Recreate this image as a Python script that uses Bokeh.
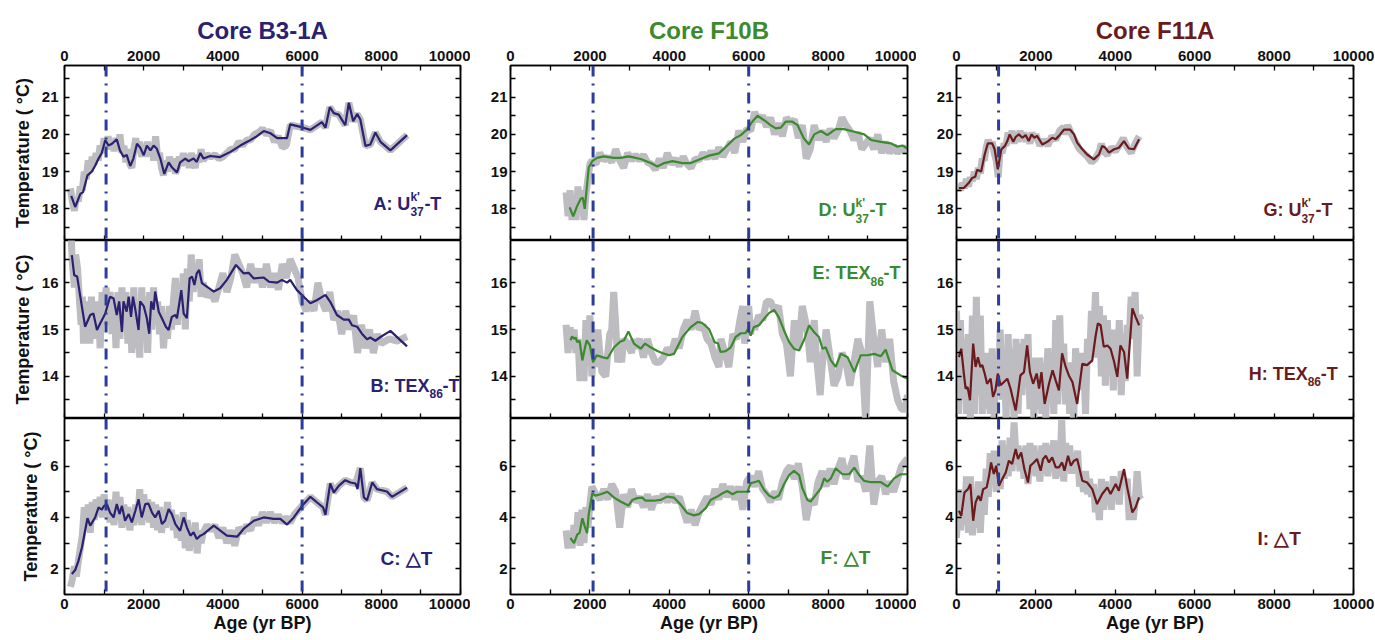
from bokeh.plotting import figure
from bokeh.layouts import gridplot
from bokeh.models import Range1d, LinearAxis, FixedTicker, Label, Span
from bokeh.embed import file_html
from bokeh.resources import INLINE

# ------------------------------------------------------------------ data
age_ticks = [0, 2000, 4000, 6000, 8000, 10000]
age_minor = [1000, 3000, 5000, 7000, 9000]
uk_ticks, uk_minor = [18, 19, 20, 21], [17.5, 18.5, 19.5, 20.5, 21.5]
tex_ticks, tex_minor = [14, 15, 16], [13.5, 14.5, 15.5, 16.5]
dt_ticks, dt_minor = [2, 4, 6], [3, 5, 7]

core_names = ["Core B3-1A", "Core F10B", "Core F11A"]
panel_tags = ["A", "B", "C", "D", "E", "F", "G", "H", "I"]

b3_events = [1050, 6000]
f10_events = [2080, 6000]
f11_events = [1060]

# ---- Core B3-1A
b3_uk_raw = [(150, 18.55), (200, 18.2), (250, 17.95), (300, 18.3), (350, 18.2), (400, 18.6), (450, 18.5),
             (500, 19.0), (550, 18.8), (600, 19.3), (650, 19.0), (700, 19.4), (750, 19.2), (800, 19.5),
             (850, 19.3), (900, 19.7), (950, 19.5), (1000, 19.9), (1050, 19.6), (1100, 19.95), (1150, 19.6),
             (1200, 19.8), (1250, 19.55), (1300, 19.9), (1350, 19.6), (1400, 20.0), (1450, 19.5), (1500, 19.7),
             (1550, 19.25), (1600, 19.6), (1650, 19.2), (1700, 19.1), (1750, 19.6), (1800, 19.9), (1850, 19.5),
             (1900, 19.8), (1950, 19.4), (2000, 19.7), (2050, 19.4), (2100, 19.8), (2150, 19.45), (2200, 19.7),
             (2250, 19.3), (2300, 19.95), (2350, 19.4), (2400, 19.5), (2450, 19.1), (2500, 18.9), (2550, 19.3),
             (2600, 19.0), (2650, 19.4), (2700, 19.1), (2750, 19.35), (2800, 18.95), (2850, 19.1), (2900, 19.4),
             (2950, 19.15), (3000, 19.5), (3050, 19.2), (3100, 19.45), (3150, 19.1), (3200, 19.5), (3250, 19.25),
             (3300, 19.1), (3350, 19.45), (3400, 19.25), (3450, 19.6), (3500, 19.3), (3600, 19.45), (3700, 19.4),
             (3800, 19.45), (3900, 19.35), (4000, 19.4), (4100, 19.5), (4200, 19.6), (4300, 19.6), (4400, 19.8),
             (4500, 19.7), (4600, 19.85), (4700, 19.85), (4800, 20.0), (4900, 20.05), (5000, 20.15), (5100, 20.0),
             (5200, 20.1), (5300, 19.8), (5400, 19.95), (5500, 19.65), (5600, 19.7), (5700, 20.25), (5960, 20.2),
             (6210, 20.12), (6500, 20.33), (6590, 20.18), (6700, 20.73), (6800, 20.57), (6925, 20.53),
             (7090, 20.25), (7180, 20.85), (7290, 20.35), (7390, 20.55), (7470, 20.4), (7600, 19.69),
             (7725, 19.73), (7850, 20.05), (7980, 19.8), (8230, 19.57), (8650, 19.98)]
b3_uk_smooth = [(170, 18.35), (270, 18.05), (400, 18.4), (470, 18.45), (580, 18.9), (690, 19.0), (770, 19.15),
                (860, 19.35), (940, 19.5), (1030, 19.85), (1110, 19.7), (1200, 19.75), (1320, 19.87),
                (1400, 19.57), (1490, 19.4), (1570, 19.45), (1660, 19.15), (1740, 19.35), (1830, 19.75),
                (1910, 19.65), (2000, 19.44), (2080, 19.7), (2170, 19.57), (2250, 19.7), (2330, 19.62),
                (2420, 19.35), (2520, 18.94), (2630, 19.25), (2710, 19.12), (2840, 18.98), (2920, 19.25),
                (3050, 19.35), (3130, 19.28), (3260, 19.35), (3340, 19.26), (3430, 19.5), (3510, 19.35),
                (3680, 19.42), (3930, 19.39), (4190, 19.53), (4440, 19.7), (4650, 19.82), (4860, 19.95),
                (5030, 20.09), (5200, 20.03), (5370, 19.9), (5620, 19.9), (5700, 20.27), (5960, 20.2),
                (6210, 20.12), (6500, 20.33), (6590, 20.18), (6700, 20.73), (6800, 20.57), (6925, 20.53),
                (7090, 20.25), (7180, 20.85), (7290, 20.35), (7390, 20.55), (7470, 20.4), (7600, 19.69),
                (7725, 19.73), (7850, 20.05), (7980, 19.8), (8230, 19.57), (8650, 19.98)]

b3_tex_raw = [(170, 16.95), (200, 16.4), (250, 15.9), (280, 16.6), (330, 16.3), (380, 15.6), (420, 15.1),
              (450, 15.7), (480, 14.7), (520, 15.4), (560, 14.9), (600, 15.6), (640, 14.7), (680, 15.7),
              (720, 14.8), (760, 15.5), (800, 14.9), (850, 15.6), (900, 14.6), (950, 15.8), (1000, 15.1),
              (1050, 15.9), (1100, 15.2), (1150, 15.8), (1200, 14.9), (1250, 15.7), (1300, 14.6), (1350, 15.8),
              (1400, 14.8), (1450, 15.9), (1500, 15.0), (1550, 15.8), (1600, 14.7), (1650, 15.6), (1700, 14.5),
              (1750, 15.9), (1800, 14.6), (1850, 15.5), (1900, 14.4), (1950, 15.9), (2000, 14.8), (2050, 15.7),
              (2100, 14.5), (2150, 15.8), (2200, 15.0), (2250, 15.9), (2300, 15.1), (2350, 15.6), (2400, 14.9),
              (2450, 15.5), (2500, 14.6), (2550, 15.2), (2600, 14.8), (2650, 15.5), (2700, 15.0), (2750, 15.6),
              (2800, 16.1), (2850, 15.1), (2900, 16.0), (2950, 15.3), (3000, 16.2), (3050, 15.0), (3100, 16.3),
              (3150, 15.6), (3200, 16.6), (3250, 15.8), (3300, 16.3), (3350, 15.9), (3400, 16.5), (3450, 15.7),
              (3500, 16.0), (3600, 15.7), (3700, 15.8), (3800, 15.6), (3900, 15.9), (4000, 16.2), (4100, 15.8),
              (4200, 16.1), (4300, 16.6), (4400, 16.4), (4500, 16.2), (4600, 15.9), (4700, 16.4), (4800, 16.0),
              (4900, 16.3), (5000, 15.9), (5100, 16.4), (5200, 15.9), (5300, 16.2), (5400, 15.85), (5500, 16.4),
              (5600, 16.1), (5700, 16.5), (5800, 16.3), (5900, 16.1), (6000, 15.6), (6100, 15.4), (6200, 15.6),
              (6300, 15.4), (6400, 16.0), (6500, 15.6), (6600, 15.4), (6700, 15.8), (6800, 15.2), (6900, 15.4),
              (7000, 14.9), (7100, 15.4), (7200, 15.0), (7300, 15.3), (7400, 14.5), (7500, 15.1), (7600, 14.6),
              (7700, 15.0), (7800, 14.5), (7900, 14.9), (8000, 14.7), (8200, 14.8), (8400, 14.75), (8650, 14.85)]
b3_tex_smooth = [(185, 16.59), (245, 16.16), (320, 16.13), (400, 15.7), (520, 15.06), (650, 15.31), (730, 15.34),
                 (820, 14.99), (900, 15.13), (1030, 15.34), (1150, 15.7), (1240, 15.66), (1320, 15.31),
                 (1380, 15.6), (1450, 14.95), (1490, 15.6), (1570, 15.38), (1620, 15.7), (1680, 15.27),
                 (1730, 15.7), (1790, 15.42), (1870, 14.99), (1910, 15.6), (2000, 15.5), (2080, 15.24),
                 (2140, 14.91), (2190, 15.6), (2250, 15.42), (2290, 15.81), (2380, 15.38), (2460, 15.24),
                 (2560, 15.06), (2630, 14.99), (2710, 15.27), (2800, 15.31), (2840, 15.24), (2950, 15.84),
                 (3010, 15.34), (3090, 15.24), (3160, 16.09), (3220, 16.13), (3280, 15.95), (3340, 16.2),
                 (3400, 16.27), (3470, 15.99), (3770, 15.81), (3930, 15.88), (4100, 16.06), (4330, 16.38),
                 (4520, 16.2), (4650, 16.21), (4780, 16.09), (5030, 16.11), (5160, 16.02), (5370, 16.0),
                 (5490, 16.06), (5620, 16.0), (5700, 16.06), (5870, 15.84), (6040, 15.7), (6210, 15.56),
                 (6380, 15.63), (6590, 15.74), (6710, 15.59), (6880, 15.31), (7050, 15.21), (7180, 15.21),
                 (7260, 15.09), (7390, 15.06), (7510, 14.91), (7640, 14.79), (7720, 14.83), (7850, 14.76),
                 (7980, 14.84), (8230, 14.97), (8650, 14.64)]

b3_dt_raw = [(150, 1.3), (200, 1.6), (250, 2.1), (300, 1.7), (350, 2.3), (400, 2.8), (450, 3.3), (500, 4.4),
             (550, 3.5), (600, 4.5), (650, 3.4), (700, 4.6), (750, 3.9), (800, 4.7), (850, 4.1), (900, 4.8),
             (950, 4.0), (1000, 4.9), (1050, 4.1), (1100, 4.7), (1150, 3.8), (1200, 4.6), (1250, 3.7), (1300, 5.0),
             (1350, 3.9), (1400, 4.8), (1450, 3.6), (1500, 4.5), (1550, 3.7), (1600, 4.4), (1650, 3.5), (1700, 4.2),
             (1750, 3.7), (1800, 4.5), (1850, 3.8), (1900, 5.1), (1950, 3.7), (2000, 4.9), (2050, 3.9), (2100, 4.7),
             (2150, 3.8), (2200, 4.6), (2250, 3.6), (2300, 4.5), (2350, 3.5), (2400, 4.4), (2450, 3.4), (2500, 4.2),
             (2550, 3.6), (2600, 4.6), (2650, 3.8), (2700, 4.3), (2750, 3.5), (2800, 4.1), (2850, 3.2), (2900, 3.9),
             (2950, 3.1), (3000, 4.2), (3050, 2.8), (3100, 3.9), (3150, 2.7), (3200, 3.5), (3250, 2.9), (3300, 3.8),
             (3350, 2.6), (3400, 3.5), (3450, 3.0), (3500, 3.4), (3600, 3.7), (3700, 3.5), (3800, 3.7), (3900, 3.2),
             (4000, 3.6), (4100, 3.0), (4200, 3.5), (4300, 2.9), (4400, 3.6), (4500, 3.4), (4600, 3.7), (4700, 3.5),
             (4800, 4.0), (4900, 3.7), (5000, 4.2), (5100, 3.8), (5200, 4.2), (5300, 3.8), (5400, 4.1), (5500, 3.8),
             (5600, 4.0), (5700, 3.8), (5800, 4.1), (6000, 4.45), (6210, 4.8), (6380, 4.58), (6530, 4.39),
             (6590, 4.1), (6710, 5.32), (6800, 4.97), (6925, 5.23), (7090, 5.45), (7220, 5.36), (7350, 5.32),
             (7470, 5.92), (7560, 4.78), (7640, 4.67), (7770, 5.36), (7890, 5.1), (8140, 5.01), (8270, 4.8),
             (8650, 5.16)]
b3_dt_smooth = [(185, 1.8), (270, 1.95), (350, 2.3), (440, 2.83), (520, 3.48), (580, 3.97), (650, 3.68),
                (775, 4.0), (860, 4.39), (940, 4.3), (1000, 4.45), (1070, 4.52), (1150, 4.19), (1240, 4.0),
                (1320, 4.52), (1390, 4.13), (1450, 4.45), (1530, 3.87), (1620, 4.13), (1700, 3.81), (1790, 4.26),
                (1870, 4.71), (1950, 4.0), (2040, 4.52), (2120, 4.54), (2210, 4.19), (2290, 4.0), (2380, 4.26),
                (2460, 3.74), (2540, 3.87), (2630, 4.32), (2710, 4.13), (2800, 3.74), (2920, 3.48), (3010, 4.0),
                (3090, 3.61), (3180, 3.29), (3260, 3.42), (3340, 3.16), (3430, 3.29), (3510, 3.35), (3770, 3.68),
                (4100, 3.29), (4360, 3.25), (4520, 3.55), (4780, 3.87), (5030, 4.0), (5280, 3.94), (5450, 3.94),
                (5620, 3.72), (5790, 4.0), (6000, 4.45), (6210, 4.8), (6380, 4.58), (6530, 4.39), (6590, 4.1),
                (6710, 5.32), (6800, 4.97), (6925, 5.23), (7090, 5.45), (7220, 5.36), (7350, 5.32), (7400, 5.1),
                (7470, 5.92), (7560, 4.78), (7640, 4.67), (7770, 5.36), (7890, 5.1), (8140, 5.01), (8270, 4.8),
                (8650, 5.16)]

# ---- Core F10B
f10_uk_raw = [(1400, 18.45), (1450, 17.8), (1500, 18.5), (1550, 17.7), (1600, 18.3), (1650, 17.7), (1700, 18.6),
              (1750, 17.9), (1800, 18.5), (1850, 17.7), (1900, 18.4), (1950, 18.8), (2000, 19.2), (2050, 19.3),
              (2150, 19.2), (2250, 19.5), (2350, 19.3), (2450, 19.4), (2550, 19.25), (2650, 19.6), (2750, 19.3),
              (2850, 19.1), (2950, 19.5), (3050, 19.3), (3150, 19.45), (3250, 19.3), (3350, 19.45), (3450, 19.25),
              (3550, 19.2), (3650, 19.05), (3750, 19.35), (3850, 19.1), (3950, 19.5), (4050, 19.2), (4150, 19.35),
              (4250, 19.15), (4350, 19.4), (4450, 19.2), (4550, 19.1), (4650, 19.35), (4750, 19.3), (4850, 19.5),
              (4950, 19.35), (5050, 19.55), (5150, 19.35), (5250, 19.65), (5350, 19.4), (5450, 19.6),
              (5550, 19.8), (5650, 19.5), (5750, 20.1), (5850, 19.8), (5950, 20.15), (6050, 20.1), (6150, 20.6),
              (6250, 20.35), (6350, 20.5), (6450, 20.2), (6550, 20.45), (6650, 20.0), (6750, 20.3), (6850, 19.95),
              (6950, 20.45), (7050, 20.3), (7150, 20.4), (7250, 19.9), (7350, 20.25), (7450, 19.35), (7550, 19.6),
              (7650, 20.25), (7750, 19.85), (7850, 20.1), (7950, 19.8), (8050, 20.15), (8150, 19.9), (8250, 20.1),
              (8350, 20.45), (8450, 20.25), (8550, 20.1), (8650, 19.85), (8750, 20.05), (8850, 19.6), (8950, 19.75),
              (9050, 19.9), (9150, 19.6), (9250, 20.0), (9350, 19.5), (9450, 19.8), (9550, 19.5), (9650, 19.7),
              (9750, 19.5), (9850, 19.65), (9950, 19.55), (10000, 19.7)]
f10_uk_smooth = [(1490, 18.04), (1580, 17.8), (1680, 18.08), (1770, 18.27), (1820, 18.3), (1870, 18.0),
                 (1970, 19.11), (2060, 19.28), (2180, 19.37), (2350, 19.41), (2600, 19.37), (2770, 19.37),
                 (2980, 19.41), (3280, 19.34), (3530, 19.23), (3700, 19.14), (3870, 19.23), (4080, 19.28),
                 (4330, 19.23), (4540, 19.23), (4790, 19.34), (5000, 19.43), (5250, 19.49), (5460, 19.7),
                 (5630, 19.88), (5800, 19.98), (5950, 20.12), (6090, 20.34), (6220, 20.5), (6390, 20.38),
                 (6550, 20.25), (6680, 20.16), (6810, 20.18), (6930, 20.34), (7100, 20.34), (7230, 20.25),
                 (7390, 19.89), (7520, 19.73), (7650, 20.0), (7820, 20.09), (7980, 19.98), (8190, 20.14),
                 (8400, 20.14), (8660, 20.07), (8910, 20.0), (9080, 19.85), (9330, 19.8), (9580, 19.76),
                 (9750, 19.67), (9870, 19.7), (10000, 19.62)]

f10_tex_raw = [(1400, 15.1), (1450, 14.5), (1500, 15.05), (1550, 14.6), (1600, 15.0), (1650, 14.5), (1700, 14.8),
               (1750, 13.9), (1800, 14.7), (1850, 13.9), (1900, 15.2), (1950, 14.3), (2000, 15.3), (2050, 14.0),
               (2100, 14.7), (2150, 14.2), (2200, 15.0), (2250, 14.5), (2300, 14.1), (2400, 14.0), (2450, 14.5),
               (2500, 14.9), (2550, 15.0), (2600, 15.8), (2650, 15.1), (2700, 14.3), (2750, 14.5), (2800, 14.3),
               (2850, 14.8), (2950, 14.7), (3050, 14.5), (3100, 14.8), (3150, 14.6), (3250, 14.8), (3350, 14.4),
               (3450, 14.8), (3550, 14.5), (3650, 14.3), (3750, 14.3), (3850, 14.4), (3950, 14.6), (4050, 14.5),
               (4150, 14.8), (4250, 14.6), (4350, 15.0), (4450, 15.2), (4550, 15.0), (4650, 15.4), (4750, 15.0),
               (4850, 15.1), (4950, 14.8), (5050, 14.7), (5150, 14.4), (5250, 14.2), (5300, 14.8), (5400, 14.5),
               (5500, 14.2), (5600, 14.9), (5700, 14.8), (5800, 15.3), (5850, 15.5), (5900, 14.7), (6000, 15.5),
               (6050, 14.9), (6100, 15.2), (6150, 15.0), (6250, 15.3), (6350, 15.2), (6450, 15.6), (6550, 15.6),
               (6650, 15.4), (6750, 15.5), (6850, 14.9), (6950, 14.7), (7050, 14.0), (7150, 15.2), (7250, 14.6),
               (7350, 15.5), (7450, 15.1), (7500, 14.8), (7550, 14.3), (7650, 15.2), (7700, 14.5), (7800, 13.6),
               (7850, 14.2), (7950, 15.0), (8050, 14.4), (8150, 13.8), (8250, 14.0), (8350, 14.5), (8450, 14.3),
               (8550, 13.8), (8650, 14.3), (8750, 14.8), (8850, 14.5), (8950, 13.0), (9050, 15.6), (9150, 14.8),
               (9250, 14.2), (9350, 15.0), (9450, 14.3), (9550, 14.8), (9650, 13.9), (9750, 13.5), (9850, 13.3),
               (9950, 13.3), (10000, 13.6)]
f10_tex_smooth = [(1510, 14.77), (1550, 14.85), (1600, 14.8), (1640, 14.83), (1680, 14.73), (1740, 14.76),
                  (1810, 14.34), (1870, 14.59), (1920, 14.77), (2000, 14.66), (2080, 14.3), (2170, 14.45),
                  (2310, 14.41), (2440, 14.38), (2610, 14.62), (2760, 14.74), (2860, 14.77), (2970, 14.96),
                  (3110, 14.7), (3280, 14.59), (3390, 14.7), (3530, 14.62), (3700, 14.54), (3820, 14.5),
                  (3990, 14.45), (4120, 14.48), (4330, 14.84), (4540, 15.05), (4710, 15.16), (4830, 15.14),
                  (5000, 15.01), (5140, 14.73), (5230, 14.7), (5290, 14.52), (5420, 14.54), (5550, 14.62),
                  (5670, 14.84), (5800, 14.92), (5920, 14.92), (5980, 15.01), (6050, 14.87), (6130, 15.05),
                  (6260, 15.09), (6390, 15.23), (6510, 15.35), (6640, 15.42), (6760, 15.26), (6890, 14.98),
                  (7020, 14.73), (7140, 14.59), (7270, 14.55), (7390, 14.77), (7520, 15.09), (7650, 14.94),
                  (7770, 14.84), (7860, 14.59), (7940, 14.62), (8070, 14.34), (8190, 14.2), (8320, 14.48),
                  (8490, 14.41), (8660, 14.09), (8820, 14.45), (8990, 14.45), (9160, 14.48), (9330, 14.43),
                  (9450, 14.57), (9620, 14.13), (9830, 14.02), (10000, 13.95)]

f10_dt_raw = [(1400, 3.5), (1450, 2.8), (1500, 3.4), (1550, 2.8), (1600, 3.7), (1650, 3.0), (1700, 4.2), (1750, 2.9),
              (1800, 4.3), (1850, 3.0), (1900, 4.4), (1950, 3.6), (2000, 4.5), (2050, 5.2), (2150, 4.9), (2250, 4.7),
              (2350, 5.1), (2450, 4.7), (2550, 5.3), (2650, 5.0), (2750, 3.6), (2850, 4.9), (2950, 4.4), (3050, 5.1),
              (3150, 4.6), (3250, 4.8), (3350, 4.4), (3450, 4.9), (3550, 4.3), (3650, 4.8), (3750, 4.6), (3850, 4.9),
              (3950, 4.6), (4050, 4.9), (4150, 4.6), (4250, 4.8), (4350, 4.3), (4450, 3.8), (4550, 4.3), (4650, 3.7),
              (4750, 4.2), (4850, 4.5), (4950, 4.8), (5050, 4.5), (5150, 5.1), (5250, 4.7), (5350, 5.3), (5450, 4.8),
              (5550, 5.2), (5650, 4.7), (5750, 5.2), (5850, 4.3), (5950, 5.4), (6050, 5.6), (6150, 5.2), (6250, 5.8),
              (6350, 5.1), (6450, 4.9), (6550, 4.6), (6650, 5.0), (6750, 4.7), (6850, 5.4), (6950, 5.8), (7050, 6.0),
              (7150, 5.5), (7250, 6.1), (7350, 5.2), (7450, 3.9), (7550, 4.7), (7650, 4.5), (7750, 5.4), (7850, 5.8),
              (7950, 5.2), (8050, 5.9), (8150, 5.3), (8250, 5.9), (8350, 6.3), (8450, 5.5), (8550, 5.9), (8650, 6.4),
              (8750, 5.4), (8850, 5.6), (8950, 5.0), (9050, 6.8), (9150, 4.5), (9250, 5.4), (9350, 5.6), (9450, 4.9),
              (9550, 5.4), (9650, 5.0), (9750, 5.5), (9850, 6.0), (9950, 6.2), (10000, 6.3)]
f10_dt_smooth = [(1510, 3.2), (1600, 3.0), (1680, 3.33), (1740, 3.4), (1810, 3.97), (1870, 3.65), (1930, 3.39),
                 (1970, 4.13), (2060, 4.94), (2140, 4.85), (2270, 4.9), (2440, 5.0), (2610, 4.77), (2770, 4.62),
                 (2970, 4.46), (3070, 4.68), (3190, 4.75), (3320, 4.77), (3400, 4.65), (3610, 4.65), (3780, 4.68),
                 (3950, 4.81), (4120, 4.77), (4290, 4.49), (4450, 4.17), (4620, 4.08), (4750, 4.13), (4920, 4.36),
                 (5040, 4.68), (5210, 4.81), (5340, 4.94), (5460, 5.03), (5590, 4.9), (5710, 5.0), (5970, 5.0),
                 (6050, 5.33), (6180, 5.39), (6260, 5.42), (6390, 5.07), (6510, 4.85), (6640, 4.75), (6760, 4.85),
                 (6890, 5.29), (7020, 5.65), (7140, 5.81), (7270, 5.65), (7350, 5.14), (7480, 4.68), (7560, 4.62),
                 (7690, 4.88), (7820, 5.14), (7900, 5.52), (7980, 5.39), (8070, 5.52), (8190, 5.91), (8360, 5.68),
                 (8530, 5.68), (8660, 5.94), (8780, 5.65), (8910, 5.42), (9080, 5.37), (9330, 5.37), (9500, 5.2),
                 (9660, 5.52), (9830, 5.68), (10000, 5.68)]

# ---- Core F11A
f11_uk_raw = [(0, 18.5), (50, 18.65), (100, 18.5), (150, 18.7), (200, 18.55), (250, 18.8), (300, 18.6), (350, 18.85),
              (400, 18.75), (450, 19.0), (500, 18.8), (550, 19.1), (600, 18.95), (650, 19.35), (700, 19.3),
              (750, 19.65), (800, 19.85), (850, 19.7), (900, 19.8), (950, 19.5), (1000, 19.3), (1050, 18.85),
              (1100, 19.6), (1150, 19.5), (1200, 19.75), (1250, 19.7), (1300, 20.05), (1350, 19.8), (1400, 20.1),
              (1450, 19.75), (1500, 20.05), (1550, 19.8), (1600, 20.1), (1650, 19.85), (1700, 20.05), (1750, 19.8),
              (1800, 20.0), (1850, 19.75), (1900, 20.05), (1950, 19.85), (2000, 20.0), (2100, 19.7), (2200, 19.85),
              (2300, 19.7), (2400, 19.95), (2500, 19.85), (2600, 20.1), (2700, 20.2), (2750, 20.0), (2800, 20.25),
              (2900, 20.0), (3000, 19.8), (3100, 19.6), (3200, 19.5), (3300, 19.4), (3400, 19.25), (3500, 19.35),
              (3600, 19.55), (3650, 19.75), (3700, 19.55), (3800, 19.45), (3900, 19.65), (4000, 19.55), (4100, 19.7),
              (4200, 19.9), (4300, 19.65), (4400, 19.5), (4500, 19.75), (4600, 19.95)]
f11_uk_smooth = [(60, 18.56), (185, 18.56), (310, 18.7), (395, 18.83), (470, 18.86), (520, 19.05), (620, 19.0),
                 (710, 19.46), (790, 19.76), (900, 19.76), (960, 19.6), (1040, 19.06), (1130, 19.6), (1220, 19.69),
                 (1280, 19.82), (1340, 20.0), (1430, 19.8), (1490, 19.93), (1570, 20.0), (1660, 19.91),
                 (1740, 19.98), (1820, 19.82), (1890, 20.0), (1960, 19.91), (2030, 19.96), (2160, 19.73),
                 (2290, 19.8), (2410, 19.91), (2500, 19.87), (2580, 19.96), (2710, 20.13), (2860, 20.13),
                 (2960, 20.0), (3040, 19.78), (3170, 19.6), (3290, 19.46), (3460, 19.33), (3590, 19.46),
                 (3670, 19.69), (3750, 19.64), (3840, 19.51), (3970, 19.6), (4090, 19.64), (4220, 19.82),
                 (4340, 19.62), (4470, 19.6), (4600, 19.87)]

f11_tex_raw = [(0, 15.4), (50, 13.2), (100, 15.2), (150, 13.5), (200, 14.8), (250, 13.2), (300, 14.9), (350, 13.1),
               (400, 15.3), (450, 13.2), (500, 15.7), (550, 13.6), (600, 15.3), (650, 13.2), (700, 14.5), (750, 13.3),
               (800, 14.5), (850, 13.2), (900, 14.6), (950, 13.1), (1000, 14.5), (1050, 13.6), (1100, 15.0),
               (1150, 13.5), (1200, 14.3), (1250, 13.1), (1300, 14.9), (1350, 13.4), (1400, 14.6), (1450, 13.0),
               (1500, 14.8), (1550, 13.2), (1600, 14.7), (1650, 13.6), (1700, 14.8), (1750, 14.0), (1800, 14.9),
               (1850, 13.3), (1900, 14.4), (1950, 13.1), (2000, 14.4), (2050, 13.3), (2100, 14.4), (2150, 13.2),
               (2200, 14.3), (2250, 13.1), (2300, 14.6), (2350, 13.5), (2400, 14.4), (2450, 13.2), (2500, 15.2),
               (2550, 13.4), (2600, 15.3), (2650, 13.7), (2700, 14.7), (2750, 13.4), (2800, 14.3), (2850, 13.2),
               (2900, 14.3), (2950, 13.0), (3000, 14.6), (3050, 13.7), (3100, 14.5), (3150, 13.9), (3200, 14.5),
               (3250, 13.2), (3300, 14.8), (3350, 14.3), (3400, 15.4), (3450, 14.6), (3500, 15.8), (3550, 14.4),
               (3600, 15.5), (3650, 14.0), (3700, 15.3), (3750, 13.8), (3800, 15.2), (3850, 14.1), (3900, 15.0),
               (3950, 13.7), (4000, 15.0), (4050, 14.0), (4100, 15.2), (4150, 13.6), (4200, 14.9), (4250, 13.9),
               (4300, 15.1), (4350, 14.8), (4400, 15.7), (4450, 15.3), (4500, 15.8), (4550, 14.0), (4600, 15.3),
               (4650, 15.2)]
f11_tex_smooth = [(60, 14.41), (120, 14.59), (185, 14.06), (230, 13.74), (280, 13.77), (340, 13.49), (420, 14.7),
                  (480, 14.2), (540, 14.41), (600, 14.2), (650, 14.24), (710, 14.06), (770, 13.84), (860, 13.95),
                  (920, 13.56), (980, 13.7), (1040, 14.06), (1110, 13.81), (1280, 13.95), (1360, 13.74),
                  (1490, 13.27), (1550, 13.63), (1610, 14.02), (1700, 14.09), (1780, 14.66), (1850, 14.09),
                  (1930, 13.84), (2020, 14.06), (2080, 13.74), (2140, 14.09), (2220, 13.41), (2330, 13.84),
                  (2420, 14.13), (2500, 13.91), (2580, 13.7), (2660, 14.49), (2750, 14.2), (2830, 14.02),
                  (2920, 13.88), (3040, 13.41), (3170, 14.27), (3290, 14.24), (3420, 14.34), (3500, 14.84),
                  (3560, 15.13), (3630, 15.09), (3710, 14.63), (3800, 14.66), (3880, 14.59), (3970, 14.31),
                  (4050, 13.99), (4130, 14.66), (4220, 14.52), (4300, 13.95), (4430, 15.45), (4510, 15.27),
                  (4600, 15.09)]

f11_dt_raw = [(0, 3.2), (50, 5.1), (100, 3.5), (150, 4.8), (200, 3.7), (250, 5.6), (300, 3.4), (350, 5.6), (400, 3.3),
              (450, 5.1), (500, 3.6), (550, 5.4), (600, 3.4), (650, 5.2), (700, 4.1), (750, 5.9), (800, 4.8),
              (850, 6.5), (900, 5.3), (950, 6.6), (1000, 5.0), (1050, 5.8), (1100, 5.1), (1150, 7.0), (1200, 5.5),
              (1250, 6.8), (1300, 5.6), (1350, 7.1), (1400, 5.8), (1450, 7.7), (1500, 6.3), (1550, 6.8), (1600, 5.8),
              (1650, 6.7), (1700, 5.5), (1750, 6.8), (1800, 5.3), (1850, 6.9), (1900, 5.7), (1950, 6.8), (2000, 5.6),
              (2050, 6.6), (2100, 5.4), (2150, 6.8), (2200, 5.7), (2250, 6.9), (2300, 5.6), (2350, 6.8), (2400, 5.8),
              (2450, 7.0), (2500, 5.5), (2550, 6.6), (2600, 5.6), (2650, 7.8), (2700, 5.4), (2750, 6.9), (2800, 5.8),
              (2850, 6.8), (2900, 5.7), (2950, 6.5), (3000, 5.9), (3050, 6.6), (3100, 5.2), (3150, 5.6), (3200, 5.0),
              (3250, 5.8), (3300, 4.9), (3350, 5.5), (3400, 4.8), (3450, 5.3), (3500, 4.2), (3550, 4.7), (3600, 3.9),
              (3650, 5.5), (3700, 4.3), (3750, 5.4), (3800, 4.5), (3850, 5.2), (3900, 4.3), (3950, 5.6), (4000, 4.7),
              (4050, 5.5), (4100, 4.5), (4150, 5.8), (4200, 5.5), (4250, 5.3), (4300, 5.5), (4350, 3.9), (4400, 4.8),
              (4450, 3.9), (4500, 4.6), (4550, 5.8), (4600, 4.8), (4650, 4.7)]
f11_dt_smooth = [(60, 4.26), (120, 4.06), (200, 4.97), (290, 5.1), (350, 5.3), (420, 3.87), (480, 4.58),
                 (550, 4.84), (610, 4.65), (670, 5.1), (760, 5.17), (820, 5.62), (870, 6.14), (940, 5.69),
                 (1000, 6.01), (1070, 5.23), (1150, 5.49), (1240, 5.75), (1320, 6.21), (1400, 6.08), (1490, 6.66),
                 (1550, 6.27), (1630, 6.53), (1710, 5.88), (1800, 5.36), (1860, 6.01), (1950, 6.14), (2030, 6.27),
                 (2120, 5.82), (2180, 6.27), (2250, 6.4), (2330, 6.14), (2410, 6.34), (2500, 5.95), (2580, 5.95),
                 (2660, 6.14), (2720, 5.82), (2810, 6.4), (2880, 6.01), (2960, 6.21), (3040, 6.27), (3170, 5.43),
                 (3290, 5.36), (3420, 5.1), (3540, 4.52), (3670, 4.91), (3800, 5.17), (3880, 4.91), (4010, 5.3),
                 (4090, 5.04), (4220, 5.88), (4300, 5.17), (4430, 4.19), (4510, 4.39), (4600, 4.78)]

# ------------------------------------------------------------------ style
FONT = "'Liberation Sans', Arial, sans-serif"
GRAY = "#bcbcc1"
DASH = "#2c3c9c"
COLORS = ["#2a2170", "#3b8a2e", "#6b1b1d"]

YR = [(17.15, 21.85), (13.1, 16.9), (1.0, 7.85)]
YTICKS = [(uk_ticks, uk_minor), (tex_ticks, tex_minor), (dt_ticks, dt_minor)]
FW = [396, 397, 397]
FH = [175, 178, 176]
BL = [64, 40, 40]
BR = [10, 9, 21]
BT = [65, 0, 0]
BB = [0, 0, 45]

raw_series = [[b3_uk_raw, b3_tex_raw, b3_dt_raw],
              [f10_uk_raw, f10_tex_raw, f10_dt_raw],
              [f11_uk_raw, f11_tex_raw, f11_dt_raw]]
smooth_series = [[b3_uk_smooth, b3_tex_smooth, b3_dt_smooth],
                 [f10_uk_smooth, f10_tex_smooth, f10_dt_smooth],
                 [f11_uk_smooth, f11_tex_smooth, f11_dt_smooth]]
events = [b3_events, f10_events, f11_events]

# panel label anchors (age, temperature)
label_anchor = {
    (0, 0): (7800, 18.14), (0, 1): (7730, 13.8), (0, 2): (7980, 2.4),
    (1, 0): (7760, 17.96), (1, 1): (7610, 16.2), (1, 2): (7810, 2.44),
    (2, 0): (7730, 17.96), (2, 1): (7360, 14.06), (2, 2): (7580, 3.18),
}


def label_pieces(tag, kind):
    if kind == 0:
        w = 38 if tag == "G" else 37
        return [(f"{tag}: U", 0, 0, 18), ("k'", w, 7, 12), ("37", w, -8, 12), ("-T", w + 14, 0, 18)]
    if kind == 1:
        w = 58 if tag == "E" else 59
        return [(f"{tag}: TEX", 0, 0, 18), ("86", w, -8, 12), ("-T", w + 13, 0, 18)]
    sp = " " if tag == "C" else "  "
    return [(f"{tag}:{sp}\u25b3T", 0, 0, 19)]


def style_axis(ax, labelled, ticks, minor):
    ax.ticker = FixedTicker(ticks=ticks, minor_ticks=minor)
    ax.axis_line_color = "black"
    ax.axis_line_width = 1.5
    ax.major_tick_in = 5
    ax.major_tick_out = 0
    ax.minor_tick_in = 5
    ax.minor_tick_out = 0
    ax.major_tick_line_width = 1.3
    ax.minor_tick_line_width = 1.3
    if labelled:
        ax.major_label_text_font = FONT
        ax.major_label_text_font_size = "15px"
        ax.major_label_text_font_style = "bold"
        ax.major_label_text_color = "#111111"
    else:
        ax.major_label_text_color = None
        ax.major_label_standoff = 0


rows = []
for r in range(3):
    row = []
    for c in range(3):
        p = figure(frame_width=FW[c], frame_height=FH[r],
                   x_range=Range1d(0, 10000), y_range=Range1d(*YR[r]),
                   x_axis_location=None, y_axis_location=None,
                   output_backend="svg", toolbar_location=None,
                   min_border_left=BL[c], min_border_right=BR[c],
                   min_border_top=BT[r], min_border_bottom=BB[r],
                   background_fill_color="white", border_fill_color="white")
        p.xgrid.grid_line_color = None
        p.ygrid.grid_line_color = None
        p.outline_line_color = "black"
        p.outline_line_width = 1.5
        p.outline_line_alpha = 1.0

        left = LinearAxis()
        style_axis(left, True, *YTICKS[r])
        left.major_label_standoff = 6 if c == 0 else 3
        if c == 0:
            left.axis_label = "Temperature ( \u00b0C)"
            left.axis_label_text_font = FONT
            left.axis_label_text_font_size = "18px"
            left.axis_label_text_font_style = "bold"
            left.axis_label_text_color = "#111111"
            left.axis_label_standoff = 6
        p.add_layout(left, "left")
        right = LinearAxis()
        style_axis(right, False, *YTICKS[r])
        p.add_layout(right, "right")

        bottom = LinearAxis()
        style_axis(bottom, r == 2, age_ticks, age_minor)
        if r == 2:
            bottom.major_label_standoff = 4
            bottom.axis_label = "Age (yr BP)"
            bottom.axis_label_text_font = FONT
            bottom.axis_label_text_font_size = "18px"
            bottom.axis_label_text_font_style = "bold"
            bottom.axis_label_text_color = "#111111"
            bottom.axis_label_standoff = 1
        p.add_layout(bottom, "below")
        if r == 0:
            top = LinearAxis()
            style_axis(top, True, age_ticks, age_minor)
            top.major_label_standoff = 5
            p.add_layout(top, "above")
            p.title.text = core_names[c]
            p.title.align = "center"
            p.title.text_font = FONT
            p.title.text_font_size = "24px"
            p.title.text_font_style = "bold"
            p.title.text_color = COLORS[c]
            p.title.standoff = 7

        raw = raw_series[c][r]
        sm = smooth_series[c][r]
        p.line([a for a, _ in raw], [v for _, v in raw], line_color=GRAY, line_width=7)
        p.line([a for a, _ in sm], [v for _, v in sm], line_color=COLORS[c], line_width=2.2)

        for ev in events[c]:
            p.add_layout(Span(location=ev, dimension="height", line_color=DASH,
                              line_width=3, line_dash="11 7 2 7"))

        ax0, ay0 = label_anchor[(c, r)]
        for text, dx, dy, size in label_pieces(panel_tags[c * 3 + r], r):
            p.add_layout(Label(x=ax0, y=ay0, x_offset=dx, y_offset=dy, text=text,
                               text_font=FONT, text_font_size=f"{size}px",
                               text_font_style="bold", text_color=COLORS[c],
                               text_baseline="middle", text_align="left"))
        row.append(p)
    rows.append(row)

grid = gridplot(rows, toolbar_location=None)

with open("out.html", "w") as f:
    f.write(file_html(grid, INLINE))
